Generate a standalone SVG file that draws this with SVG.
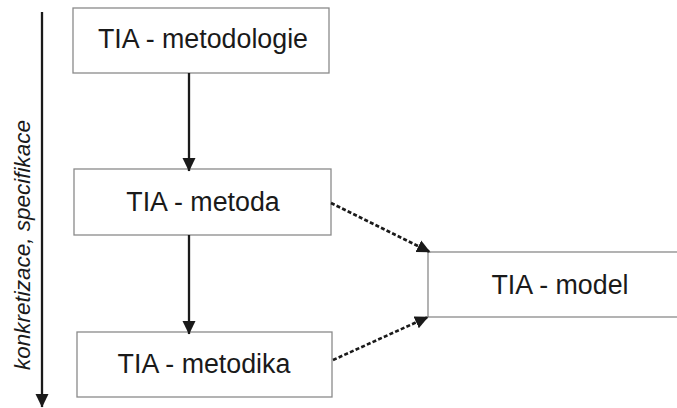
<svg xmlns="http://www.w3.org/2000/svg" width="677" height="408" viewBox="0 0 677 408">
  <style>
    .box { fill: #ffffff; stroke: #8a8a8a; stroke-width: 1.3; }
    .label { font-family: "Liberation Sans", Arial, sans-serif; font-size: 26.8px; fill: #1a1a1a; text-anchor: middle; }
    .side { font-family: "Liberation Sans", Arial, sans-serif; font-size: 22.5px; font-style: italic; fill: #1a1a1a; text-anchor: middle; }
    .solid { stroke: #1a1a1a; stroke-width: 2.3; fill: none; }
    .dashed { stroke: #1a1a1a; stroke-width: 2.6; fill: none; stroke-dasharray: 4 2.2; }
  </style>
  <defs>
    <marker id="head" viewBox="0 0 14 14" refX="13" refY="7" markerWidth="14" markerHeight="14" markerUnits="userSpaceOnUse" orient="auto">
      <path d="M0,0.5 L13.5,7 L0,13.5 Z" fill="#1a1a1a"/>
    </marker>
  </defs>

  <rect width="677" height="408" fill="#ffffff"/>

  <!-- direction axis with its caption -->
  <g id="axis">
    <line class="solid" x1="42" y1="12" x2="42" y2="407" marker-end="url(#head)"/>
    <text class="side" transform="translate(30,245) rotate(-90)">konkretizace, specifikace</text>
  </g>

  <g id="metodologie">
    <rect class="box" x="73" y="8" width="256" height="65"/>
    <text class="label" x="203" y="48">TIA - metodologie</text>
  </g>

  <g id="metoda">
    <rect class="box" x="74" y="169" width="257" height="66"/>
    <text class="label" x="203" y="211">TIA - metoda</text>
  </g>

  <g id="metodika">
    <rect class="box" x="77" y="332" width="255" height="65"/>
    <text class="label" x="204" y="373">TIA - metodika</text>
  </g>

  <g id="model">
    <rect class="box" x="428" y="252" width="260" height="65"/>
    <text class="label" x="560" y="294">TIA - model</text>
  </g>

  <g id="connectors">
    <line class="solid" x1="189" y1="73" x2="189" y2="171" marker-end="url(#head)"/>
    <line class="solid" x1="189" y1="235" x2="189" y2="334" marker-end="url(#head)"/>
    <line class="dashed" x1="331" y1="203" x2="430" y2="252" marker-end="url(#head)"/>
    <line class="dashed" x1="333" y1="360" x2="428" y2="317" marker-end="url(#head)"/>
  </g>
</svg>
